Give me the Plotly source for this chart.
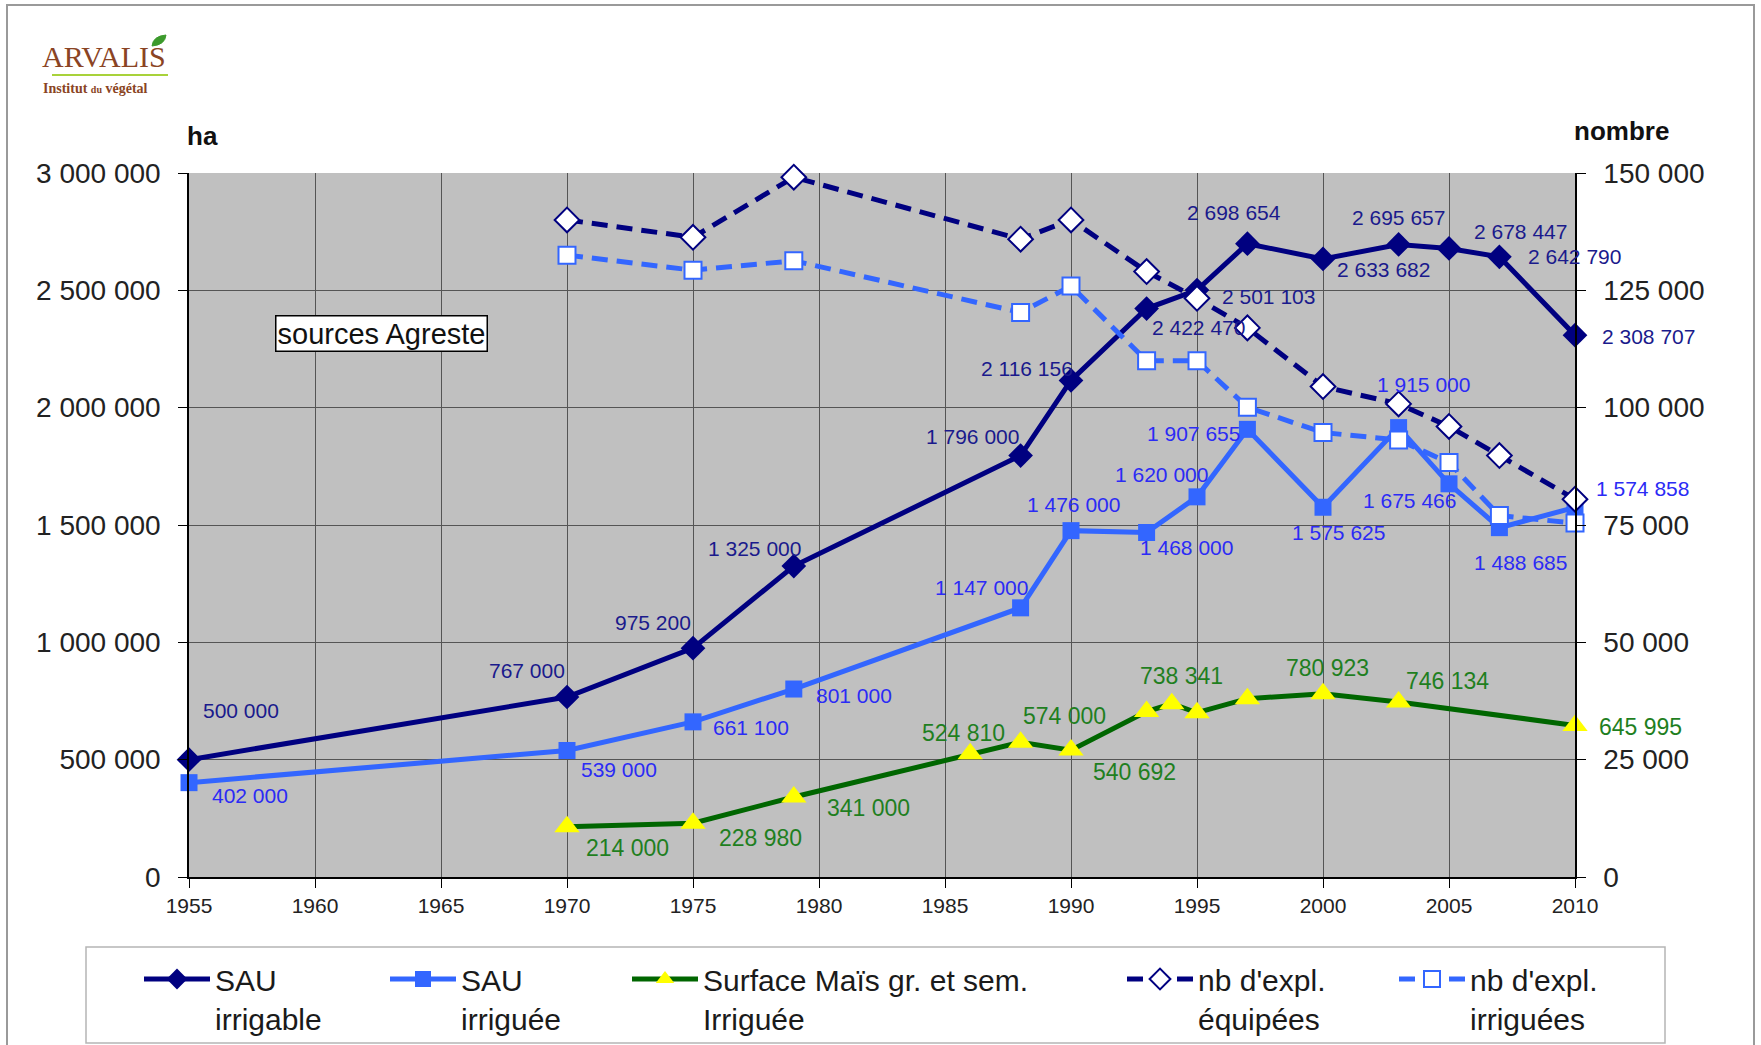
import plotly.graph_objects as go

# ---------------- data ----------------
years_sau = [1955, 1970, 1975, 1979, 1988, 1990, 1993, 1995, 1997, 2000, 2003, 2005, 2007, 2010]
sau_irrigable = [500000, 767000, 975200, 1325000, 1796000, 2116156, 2422470, 2501103,
                 2698654, 2633682, 2695657, 2678447, 2642790, 2308707]
sau_irriguee = [402000, 539000, 661100, 801000, 1147000, 1476000, 1468000, 1620000,
                1907655, 1575625, 1915000, 1675466, 1488685, 1574858]

years_mais = [1970, 1975, 1979, 1986, 1988, 1990, 1993, 1994, 1995, 1997, 2000, 2003, 2010]
mais_irriguee = [214000, 228980, 341000, 524810, 574000, 540692, 705000, 738341,
                 700000, 760000, 780923, 746134, 645995]
mais_labelled = [True, True, True, True, True, True, False, True, False, False, True, True, True]

years_expl = [1970, 1975, 1979, 1988, 1990, 1993, 1995, 1997, 2000, 2003, 2005, 2007, 2010]
expl_equipees = [140000, 136300, 149100, 135900, 140000, 129000, 123300, 117000,
                 104500, 100800, 96000, 89800, 80500]
expl_irriguees = [132500, 129300, 131300, 120300, 125900, 110000, 110000, 100100,
                  94700, 93100, 88300, 77000, 75400]

series_names = ["SAU<br>irrigable", "SAU<br>irriguée", "Surface Maïs gr. et sem.<br>Irriguée",
                "nb d'expl.<br>équipées", "nb d'expl.<br>irriguées"]

left_ticks = [0, 500000, 1000000, 1500000, 2000000, 2500000, 3000000]
right_ticks = [0, 25000, 50000, 75000, 100000, 125000, 150000]
x_ticks = [1955, 1960, 1965, 1970, 1975, 1980, 1985, 1990, 1995, 2000, 2005, 2010]

# label offsets (pixels, right / down) – styling only
off_irrigable = [(52, -49), (-40, -27), (-40, -26), (-39, -18), (-48, -19), (-44, -12), (52, 19),
                 (71, 6), (-13, -31), (60, 11), (0, -27), (71, -17), (75, 0), (73, 1)]
off_irriguee = [(61, 13), (52, 19), (58, 6), (60, 6), (-39, -20), (2, -26), (40, 15), (-36, -22),
                (-54, 4), (15, 25), (25, -43), (-40, 17), (21, 35), (67, -19)]
off_mais = [(60, 21), (67, 15), (75, 11), (-7, -21), (44, -26), (63, 22), None, (10, -28), None,
            None, (4, -26), (49, -21), (65, 2)]

# ---------------- style ----------------
W, H = 1761, 1045
L, R, T, B = 189, 186, 173, 168
PW, PH = W - L - R, H - T - B
FONT = "Liberation Sans, Arial, Helvetica, sans-serif"
NAVY = "#000080"
BLUE = "#3366FF"
GREEN = "#006600"
YELLOW = "#FFFF00"
LBL_NAVY = "#1a1a8c"
LBL_BLUE = "#2b2bf5"
LBL_GREEN = "#1f7f1f"


def px2x(px):
    return (px - L) / PW


def py2y(py):
    return 1 - (py - T) / PH


def fmt(v):
    return f"{v:,}".replace(",", " ")


fig = go.Figure()

fig.add_trace(go.Scatter(
    x=years_sau, y=sau_irrigable, name=series_names[0], mode="lines+markers",
    line=dict(color=NAVY, width=5), marker=dict(symbol="diamond", size=19, color=NAVY),
    cliponaxis=False, legend="legend"))
fig.add_trace(go.Scatter(
    x=years_sau, y=sau_irriguee, name=series_names[1], mode="lines+markers",
    line=dict(color=BLUE, width=5), marker=dict(symbol="square", size=17, color=BLUE),
    cliponaxis=False, legend="legend2"))
fig.add_trace(go.Scatter(
    x=years_mais, y=mais_irriguee, name=series_names[2], mode="lines+markers",
    line=dict(color=GREEN, width=5),
    marker=dict(symbol="triangle-up", size=22, color=YELLOW, line=dict(color=YELLOW, width=0)),
    cliponaxis=False, legend="legend3"))
fig.add_trace(go.Scatter(
    x=years_expl, y=expl_equipees, name=series_names[3], mode="lines+markers", yaxis="y2",
    line=dict(color=NAVY, width=5, dash="16px,9px"),
    marker=dict(symbol="diamond", size=19, color="white", line=dict(color=NAVY, width=2)),
    cliponaxis=False, legend="legend4"))
fig.add_trace(go.Scatter(
    x=years_expl, y=expl_irriguees, name=series_names[4], mode="lines+markers", yaxis="y2",
    line=dict(color=BLUE, width=5, dash="16px,9px"),
    marker=dict(symbol="square", size=17, color="white", line=dict(color=BLUE, width=2)),
    cliponaxis=False, legend="legend5"))

annotations = []
for x, y, o in zip(years_sau, sau_irrigable, off_irrigable):
    annotations.append(dict(x=x, y=y, xref="x", yref="y", text=fmt(y), showarrow=False,
                            xshift=o[0], yshift=-o[1], font=dict(size=21, color=LBL_NAVY, family=FONT)))
for x, y, o in zip(years_sau, sau_irriguee, off_irriguee):
    annotations.append(dict(x=x, y=y, xref="x", yref="y", text=fmt(y), showarrow=False,
                            xshift=o[0], yshift=-o[1], font=dict(size=21, color=LBL_BLUE, family=FONT)))
for x, y, o, lab in zip(years_mais, mais_irriguee, off_mais, mais_labelled):
    if lab:
        annotations.append(dict(x=x, y=y, xref="x", yref="y", text=fmt(y), showarrow=False,
                                xshift=o[0], yshift=-o[1], font=dict(size=23, color=LBL_GREEN, family=FONT)))

# axis unit titles, source box, logo
annotations += [
    dict(x=px2x(185), y=py2y(153), xref="paper", yref="paper", xanchor="left", yanchor="bottom",
         text="<b>ha</b>", showarrow=False, font=dict(size=26, color="#111", family=FONT)),
    dict(x=px2x(1572), y=py2y(148), xref="paper", yref="paper", xanchor="left", yanchor="bottom",
         text="<b>nombre</b>", showarrow=False, font=dict(size=26, color="#111", family=FONT)),
    dict(x=px2x(381), y=py2y(333), xref="paper", yref="paper", xanchor="center", yanchor="middle",
         text="sources Agreste", showarrow=False, bgcolor="white", bordercolor="black", borderwidth=1.5,
         borderpad=1, font=dict(size=29, color="#111", family=FONT)),
    dict(x=px2x(40), y=py2y(57), xref="paper", yref="paper", xanchor="left", yanchor="middle",
         text="ARVALIS", showarrow=False,
         font=dict(size=30, color="#8a4424", family="Liberation Serif, Times New Roman, serif")),
    dict(x=px2x(41), y=py2y(89), xref="paper", yref="paper", xanchor="left", yanchor="middle",
         text="<b>Institut <span style='font-size:10px'>du</span> végétal</b>", showarrow=False,
         font=dict(size=14, color="#8a4424", family="Liberation Serif, Times New Roman, serif")),
]

shapes = [
    # outer frame
    dict(type="rect", xref="paper", yref="paper", x0=px2x(7), x1=px2x(1754), y0=py2y(1100), y1=py2y(5),
         line=dict(color="#9a9a9a", width=2), layer="below"),
    # legend frame
    dict(type="rect", xref="paper", yref="paper", x0=px2x(86), x1=px2x(1665), y0=py2y(1043), y1=py2y(947),
         line=dict(color="#b5b5b5", width=1.5)),
    # logo swoosh
    dict(type="line", xref="paper", yref="paper", x0=px2x(52), x1=px2x(168), y0=py2y(75), y1=py2y(75),
         line=dict(color="#a8d23a", width=2)),
    # logo leaf
    dict(type="path", xref="paper", yref="paper",
         path=f"M {px2x(152)} {py2y(46)} Q {px2x(153)} {py2y(36)} {px2x(166)} {py2y(35)} "
              f"Q {px2x(165)} {py2y(45)} {px2x(152)} {py2y(46)} Z",
         fillcolor="#3c9a2c", line=dict(color="#3c9a2c", width=1)),
]

legend_x = [139, 385, 627, 1122, 1394]
leg_common = dict(xanchor="left", yanchor="top", y=py2y(953), bgcolor="rgba(0,0,0,0)", borderwidth=0,
                  font=dict(size=30, color="#1a1a1a", family=FONT), itemwidth=66, valign="top",
                  orientation="v", itemsizing="trace")

fig.update_layout(
    width=W, height=H, autosize=False,
    margin=dict(l=L, r=R, t=T, b=B, pad=0, autoexpand=False),
    paper_bgcolor="white", plot_bgcolor="#C0C0C0",
    separators=", ",
    showlegend=True,
    font=dict(family=FONT, color="#111"),
    xaxis=dict(range=[1955, 2010], tickvals=x_ticks, showgrid=True, gridcolor="#555555", gridwidth=1,
               showline=True, linecolor="black", linewidth=2, ticks="outside", ticklen=9, tickcolor="black",
               tickfont=dict(size=21, color="#222"), zeroline=False, ticklabelstandoff=0),
    yaxis=dict(range=[0, 3000000], tickvals=left_ticks, tickformat=",d", showgrid=True, gridcolor="#555555",
               gridwidth=1, showline=True, linecolor="black", linewidth=1.5, ticks="outside", ticklen=9,
               tickcolor="black", tickfont=dict(size=28, color="#222"), zeroline=False, ticklabelstandoff=12),
    yaxis2=dict(range=[0, 150000], tickvals=right_ticks, tickformat=",d", overlaying="y", side="right",
                showgrid=False, showline=True, linecolor="black", linewidth=1.5, ticks="outside", ticklen=9,
                tickcolor="black", tickfont=dict(size=28, color="#222"), zeroline=False, ticklabelstandoff=12),
    legend=dict(x=px2x(legend_x[0]), **leg_common),
    legend2=dict(x=px2x(legend_x[1]), **leg_common),
    legend3=dict(x=px2x(legend_x[2]), **leg_common),
    legend4=dict(x=px2x(legend_x[3]), **leg_common),
    legend5=dict(x=px2x(legend_x[4]), **leg_common),
    annotations=annotations,
    shapes=shapes,
    hovermode=False,
)

fig.write_html("out.html", config={"displayModeBar": False},
               post_script="document.body.style.margin='0px';")
